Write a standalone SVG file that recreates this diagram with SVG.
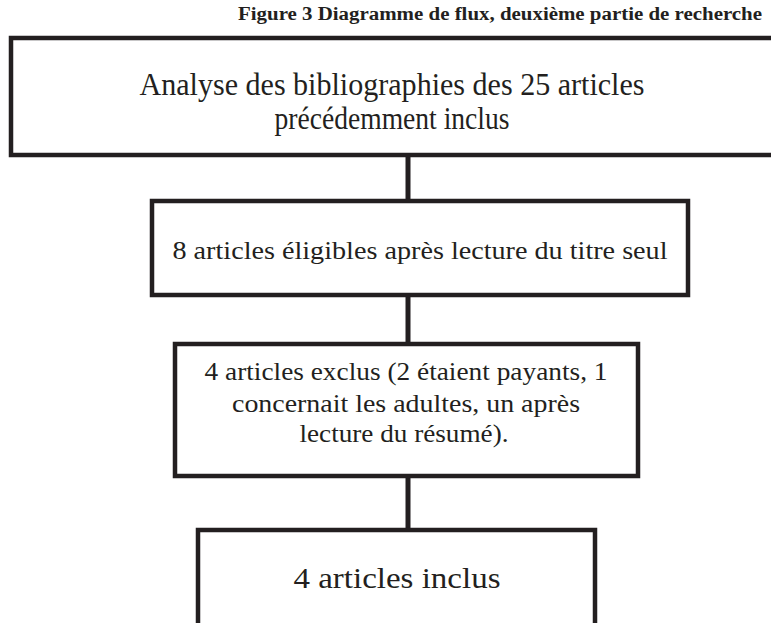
<svg xmlns="http://www.w3.org/2000/svg" width="771" height="623" viewBox="0 0 771 623">
<style>
  .box { fill: #ffffff; stroke: #231f20; stroke-width: 4.5; }
  .conn { stroke: #231f20; stroke-width: 5; fill: none; }
  .t { font-family: "Liberation Serif", "DejaVu Serif", serif; fill: #231f20; text-anchor: middle; }
  .title { font-family: "Liberation Serif", "DejaVu Serif", serif; font-weight: bold; fill: #231f20; text-anchor: middle; font-size: 18px; }
</style>
<rect width="771" height="623" fill="#ffffff"/>
<text class="title" x="500" y="20" textLength="524" lengthAdjust="spacingAndGlyphs">Figure 3 Diagramme de flux, deuxième partie de recherche</text>
<g id="connectors">
  <line class="conn" x1="408" y1="155" x2="408" y2="201"/>
  <line class="conn" x1="408" y1="295" x2="408" y2="344"/>
  <line class="conn" x1="408" y1="476" x2="408" y2="530"/>
</g>
<g id="node1">
  <rect class="box" x="11" y="38" width="775" height="117"/>
  <text class="t" x="392" y="95" font-size="31" textLength="505" lengthAdjust="spacingAndGlyphs">Analyse des bibliographies des 25 articles</text>
  <text class="t" x="392" y="129" font-size="31" textLength="235" lengthAdjust="spacingAndGlyphs">précédemment inclus</text>
</g>
<g id="node2">
  <rect class="box" x="152" y="201" width="536" height="94"/>
  <text class="t" x="420" y="259" font-size="25" textLength="495" lengthAdjust="spacingAndGlyphs">8 articles éligibles après lecture du titre seul</text>
</g>
<g id="node3">
  <rect class="box" x="175" y="344" width="463" height="132"/>
  <text class="t" x="406" y="380" font-size="25" textLength="403" lengthAdjust="spacingAndGlyphs">4 articles exclus (2 étaient payants, 1</text>
  <text class="t" x="406" y="412" font-size="25" textLength="348" lengthAdjust="spacingAndGlyphs">concernait les adultes, un après</text>
  <text class="t" x="404" y="442" font-size="25" textLength="209" lengthAdjust="spacingAndGlyphs">lecture du résumé).</text>
</g>
<g id="node4">
  <rect class="box" x="198" y="530" width="397" height="100"/>
  <text class="t" x="397" y="588" font-size="29" textLength="207" lengthAdjust="spacingAndGlyphs">4 articles inclus</text>
</g>
</svg>
